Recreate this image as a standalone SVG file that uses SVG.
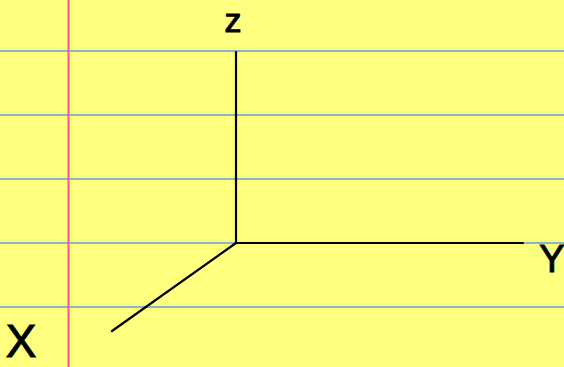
<svg xmlns="http://www.w3.org/2000/svg" width="564" height="367" viewBox="0 0 564 367">
<style>
.rule{stroke:#5aa4d8;stroke-width:1.3}
.margin{stroke:#f2558c;stroke-width:2}
.axis{stroke:#000;stroke-width:2.2;fill:none;stroke-linecap:round}
.lbl{font-family:"Liberation Sans",Arial,sans-serif;fill:#000;stroke:#000;stroke-width:1;text-anchor:middle}
</style>
<rect width="564" height="367" fill="#ffff80"/>
<g id="paper">
<line class="rule" x1="0" y1="51" x2="564" y2="51"/>
<line class="rule" x1="0" y1="115" x2="564" y2="115"/>
<line class="rule" x1="0" y1="179" x2="564" y2="179"/>
<line class="rule" x1="0" y1="243" x2="564" y2="243"/>
<line class="rule" x1="0" y1="307" x2="564" y2="307"/>
<line class="margin" x1="68.5" y1="0" x2="68.5" y2="367"/>
</g>
<g id="connectors">
<line class="axis" x1="236" y1="52" x2="236" y2="243"/>
<line class="axis" x1="236" y1="243" x2="523" y2="243"/>
<line class="axis" x1="236" y1="243" x2="112" y2="331"/>
</g>
<g id="z-label"><text class="lbl" x="233" y="32" font-size="34">z</text></g>
<g id="y-label"><text class="lbl" x="552" y="272" font-size="38">Y</text></g>
<g id="x-label"><text class="lbl" x="21" y="357" font-size="46">X</text></g>
</svg>
